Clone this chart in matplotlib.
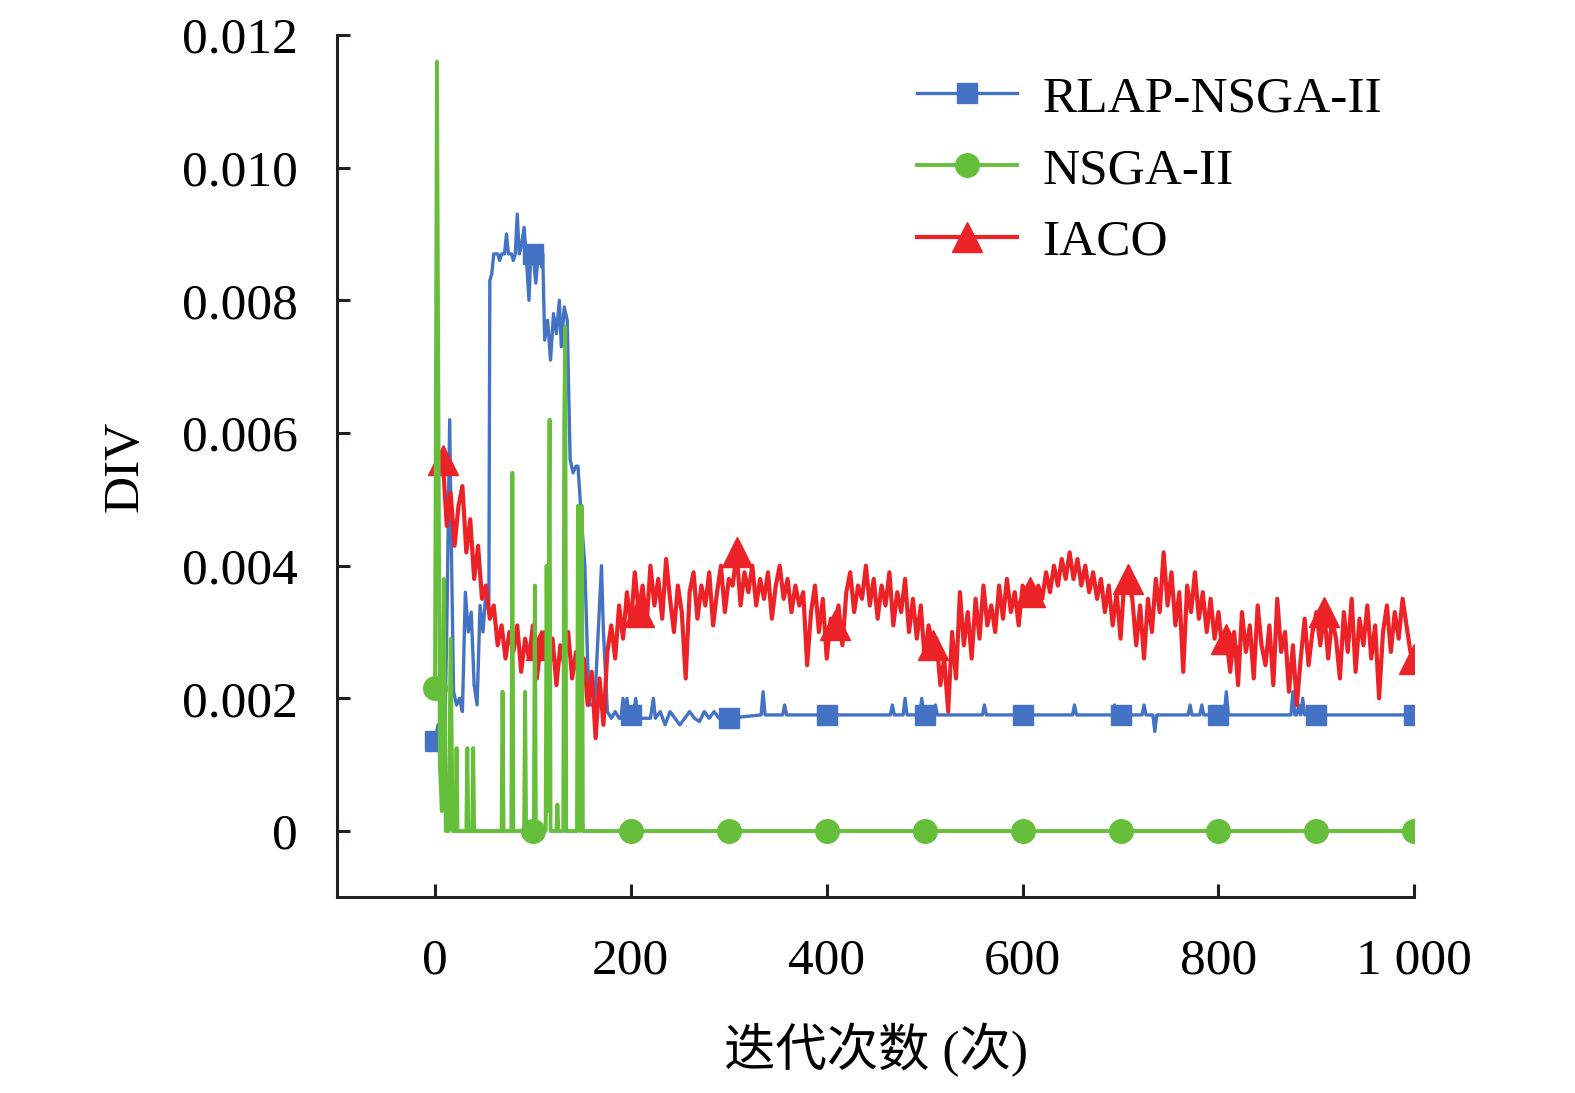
import matplotlib.pyplot as plt
import numpy as np

plt.rcParams['font.family'] = ['Liberation Serif', 'Noto Sans CJK SC']

# ---------------- 数据 ----------------
# RLAP-NSGA-II：前 300 代逐点读取
rlap_iter = [0, 3, 6, 9, 12, 15, 17, 19, 22, 25, 28, 31, 34, 37, 40, 43, 46, 49, 52, 55,
             56, 58, 60, 64, 66, 68, 71, 73, 75, 78, 80, 82, 84, 86, 88, 91, 93, 96, 98, 100,
             103, 106, 109, 110, 112, 115, 118, 121, 124, 127, 129, 132, 135, 138, 141, 144, 146, 150, 153, 156,
             158, 163, 166, 170, 172, 176, 180, 184, 188, 190, 192, 194, 196, 198, 200, 202, 205, 207, 220, 223,
             225, 230, 235, 240, 245, 250, 255, 260, 265, 270, 275, 280, 285, 290, 300]
rlap_val = [0.00135, 0.0016, 0.0008, 0.0006, 0.0030, 0.0062, 0.0040, 0.0021, 0.0019, 0.0020,
            0.0018, 0.0036, 0.0030, 0.0033, 0.0022, 0.0019, 0.0034, 0.0030, 0.0036, 0.0033,
            0.0083, 0.0084, 0.0087, 0.0087, 0.0086, 0.0087, 0.0087, 0.0090, 0.0087, 0.0087,
            0.0086, 0.0087, 0.0093, 0.0087, 0.0088, 0.0091, 0.0087, 0.0080, 0.0088, 0.0087,
            0.00826, 0.0088, 0.0085, 0.0087, 0.0074, 0.0077, 0.0071, 0.0078, 0.0075, 0.0080,
            0.0073, 0.0079, 0.0077, 0.0056, 0.0054, 0.0055, 0.0055, 0.0046, 0.0040, 0.0025,
            0.0019, 0.0019, 0.0028, 0.0040, 0.0030, 0.0018, 0.0017, 0.0018, 0.0017, 0.0017,
            0.0020, 0.0017, 0.0020, 0.0017, 0.00175, 0.0017, 0.0020, 0.0017, 0.0017, 0.0020,
            0.0017, 0.0018, 0.0016, 0.0018, 0.0017, 0.0016, 0.0017, 0.0018, 0.0017, 0.00165,
            0.0018, 0.0017, 0.0018, 0.0017, 0.0017]
# 300 代以后：稳定值 + 偶发尖峰
rlap_base = 0.00175
rlap_spike_iter = [335, 357, 467, 480, 497, 511, 561, 653, 694, 724, 735, 771, 783, 808, 876, 882, 886]
rlap_spike_val = [0.0021, 0.0019, 0.0019, 0.0020, 0.0020, 0.0019, 0.0019, 0.0019, 0.0019, 0.0019,
                  0.0015, 0.0019, 0.0019, 0.0021, 0.0021, 0.0019, 0.0020]

# NSGA-II
nsga_iter = [0, 2, 5, 7, 9, 11, 14, 16, 18, 21, 22, 23, 32, 33, 34, 38, 39, 40,
             68, 69, 70, 78, 79, 80, 91, 92, 93, 100, 101, 102, 103, 113, 114, 115, 117, 118,
             124, 125, 126, 131, 132, 133, 134, 145, 146, 148, 150, 151,
             200, 300, 400, 500, 600, 700, 800, 900, 1000]
nsga_val = [0.00215, 0.0116, 0.0010, 0.0003, 0.0038, 0.0, 0.0, 0.0029, 0.0, 0.0, 0.00125, 0.0,
            0.0, 0.00125, 0.0, 0.0, 0.00125, 0.0,
            0.0, 0.0021, 0.0, 0.0, 0.0054, 0.0, 0.0, 0.0021, 0.0, 0.0, 0.0, 0.0037, 0.0,
            0.0, 0.0040, 0.0003, 0.0062, 0.0,
            0.0, 0.0004, 0.0, 0.0, 0.0062, 0.0076, 0.0, 0.0, 0.0049, 0.0, 0.0049, 0.0,
            0.0, 0.0, 0.0, 0.0, 0.0, 0.0, 0.0, 0.0, 0.0]

# IACO：第 8 代起每 4 代读取一次
iaco_iter = np.arange(8, 1001, 4)
iaco_val = [
    0.0056, 0.0046, 0.0051, 0.0043, 0.0049, 0.0052, 0.0042, 0.0047, 0.0038, 0.0043,
    0.0035, 0.0037, 0.0032, 0.0034, 0.0028, 0.0031, 0.0026, 0.0030, 0.0027, 0.0031,
    0.0024, 0.0029, 0.0026, 0.0031, 0.0023, 0.0028, 0.0030, 0.0024, 0.0029, 0.0022,
    0.0028, 0.0025, 0.0030, 0.0023, 0.0027, 0.0021, 0.0026, 0.0019, 0.0024, 0.0014,
    0.0023, 0.0016, 0.0027, 0.0031, 0.0026, 0.0034, 0.0029, 0.0036, 0.0031, 0.0039,
    0.0033, 0.0037, 0.0031, 0.0040, 0.0034, 0.0038, 0.0032, 0.0041, 0.0035, 0.0030,
    0.0037, 0.0033, 0.0023, 0.0036, 0.0039, 0.0032, 0.0037, 0.0034, 0.0039, 0.0031,
    0.0036, 0.0040, 0.0033, 0.0038, 0.0037, 0.0042, 0.0034, 0.0039, 0.0036, 0.0040,
    0.0034, 0.0038, 0.0035, 0.0039, 0.0032, 0.0037, 0.0040, 0.0035, 0.0038, 0.0033,
    0.0037, 0.0034, 0.0036, 0.0025, 0.0033, 0.0037, 0.0030, 0.0035, 0.0026, 0.0032,
    0.0031, 0.0034, 0.0028, 0.0036, 0.0039, 0.0033, 0.0037, 0.0035, 0.0040, 0.0034,
    0.0038, 0.0032, 0.0037, 0.0034, 0.0039, 0.0031, 0.0036, 0.0033, 0.0038, 0.0030,
    0.0035, 0.0029, 0.0034, 0.0026, 0.0031, 0.0028, 0.0029, 0.0022, 0.0026, 0.0018,
    0.0030, 0.0023, 0.0036, 0.0028, 0.0033, 0.0026, 0.0035, 0.0029, 0.0037, 0.0031,
    0.0034, 0.0030, 0.0037, 0.0032, 0.0038, 0.0033, 0.0036, 0.0031, 0.0037, 0.0035,
    0.0036, 0.0034, 0.0037, 0.0035, 0.0039, 0.0036, 0.0040, 0.0037, 0.0041, 0.0038,
    0.0042, 0.0038, 0.0041, 0.0037, 0.0040, 0.0036, 0.0039, 0.0035, 0.0038, 0.0033,
    0.0037, 0.0031, 0.0036, 0.0029, 0.0038, 0.0038, 0.0035, 0.0028, 0.0034, 0.0026,
    0.0035, 0.0030, 0.0038, 0.0033, 0.0042, 0.0034, 0.0039, 0.0031, 0.0036, 0.0024,
    0.0037, 0.0033, 0.0039, 0.0032, 0.0036, 0.0030, 0.0035, 0.0029, 0.0033, 0.0027,
    0.0029, 0.0024, 0.0030, 0.0022, 0.0033, 0.0027, 0.0031, 0.0023, 0.0034, 0.0028,
    0.0025, 0.0031, 0.0022, 0.0035, 0.0027, 0.0030, 0.0021, 0.0028, 0.0019, 0.0026,
    0.0032, 0.0025, 0.0030, 0.0033, 0.0028, 0.0033, 0.0026, 0.0032, 0.0029, 0.0023,
    0.0033, 0.0027, 0.0035, 0.0024, 0.0032, 0.0028, 0.0034, 0.0026, 0.0031, 0.0020,
    0.0030, 0.0034, 0.0027, 0.0033, 0.0029, 0.0035, 0.0031, 0.0027, 0.0026]

xtick_pos = [0, 200, 400, 600, 800, 1000]
xtick_labels = ['0', '200', '400', '600', '800', '1 000']
ytick_pos = [0, 0.002, 0.004, 0.006, 0.008, 0.010, 0.012]
ytick_labels = ['0', '0.002', '0.004', '0.006', '0.008', '0.010', '0.012']

# ---------------- 整理 RLAP 序列 ----------------
xb = list(rlap_iter)
yb = list(rlap_val)
for i, v in zip(rlap_spike_iter, rlap_spike_val):
    xb += [i - 2, i, i + 2]
    yb += [rlap_base, v, rlap_base]
for m in range(400, 1001, 100):
    xb.append(m)
    yb.append(rlap_base)
order = np.argsort(xb, kind='stable')
xb = np.array(xb)[order]
yb = np.array(yb)[order]

mark_b = [int(np.where(xb == m)[0][0]) for m in range(0, 1001, 100)]
mark_g = [int(np.where(np.array(nsga_iter) == m)[0][0]) for m in range(0, 1001, 100)]
mark_r = list(range(0, 250, 25)) + [len(iaco_iter) - 1]

# ---------------- 绘图 ----------------
fig = plt.figure(figsize=(15.75, 10.93), dpi=100)
ax = fig.add_axes([0.214, 0.179, 0.684, 0.789])

c_b, c_g, c_r = '#4472c4', '#66bf3a', '#ec2227'
ax.plot(xb, yb, color=c_b, lw=2.4, marker='s', ms=14, markevery=mark_b,
        label='RLAP-NSGA-II', zorder=2)
ax.plot(nsga_iter, nsga_val, color=c_g, lw=2.8, marker='o', ms=17, markevery=mark_g,
        label='NSGA-II', zorder=4)
ax.plot(iaco_iter, iaco_val, color=c_r, lw=3.0, marker='^', ms=21, markevery=mark_r,
        label='IACO', zorder=3)

ax.set_xlim(-100, 1000)
ax.set_ylim(-0.001, 0.012)
ax.set_xticks(xtick_pos)
ax.set_xticklabels(xtick_labels)
ax.set_yticks(ytick_pos)
ax.set_yticklabels(ytick_labels)
ax.tick_params(direction='in', length=9.5, width=2.2, labelsize=37, color='#231f20')
ax.tick_params(axis='y', pad=28)
ax.tick_params(axis='x', pad=29)
for s in ['top', 'right']:
    ax.spines[s].set_visible(False)
for s in ['left', 'bottom']:
    ax.spines[s].set_linewidth(2.2)
    ax.spines[s].set_color('#231f20')

ax.set_xlabel('迭代次数 (次)', fontsize=37, labelpad=28)
ax.set_ylabel('DIV', fontsize=37, labelpad=24)

ax.legend(loc='upper left', bbox_to_anchor=(0.538, 0.953), frameon=False,
          fontsize=37, handlelength=1.95, handletextpad=0.5, labelspacing=0.48,
          borderpad=0, borderaxespad=0, numpoints=1)

fig.savefig('out.png', dpi=100)
